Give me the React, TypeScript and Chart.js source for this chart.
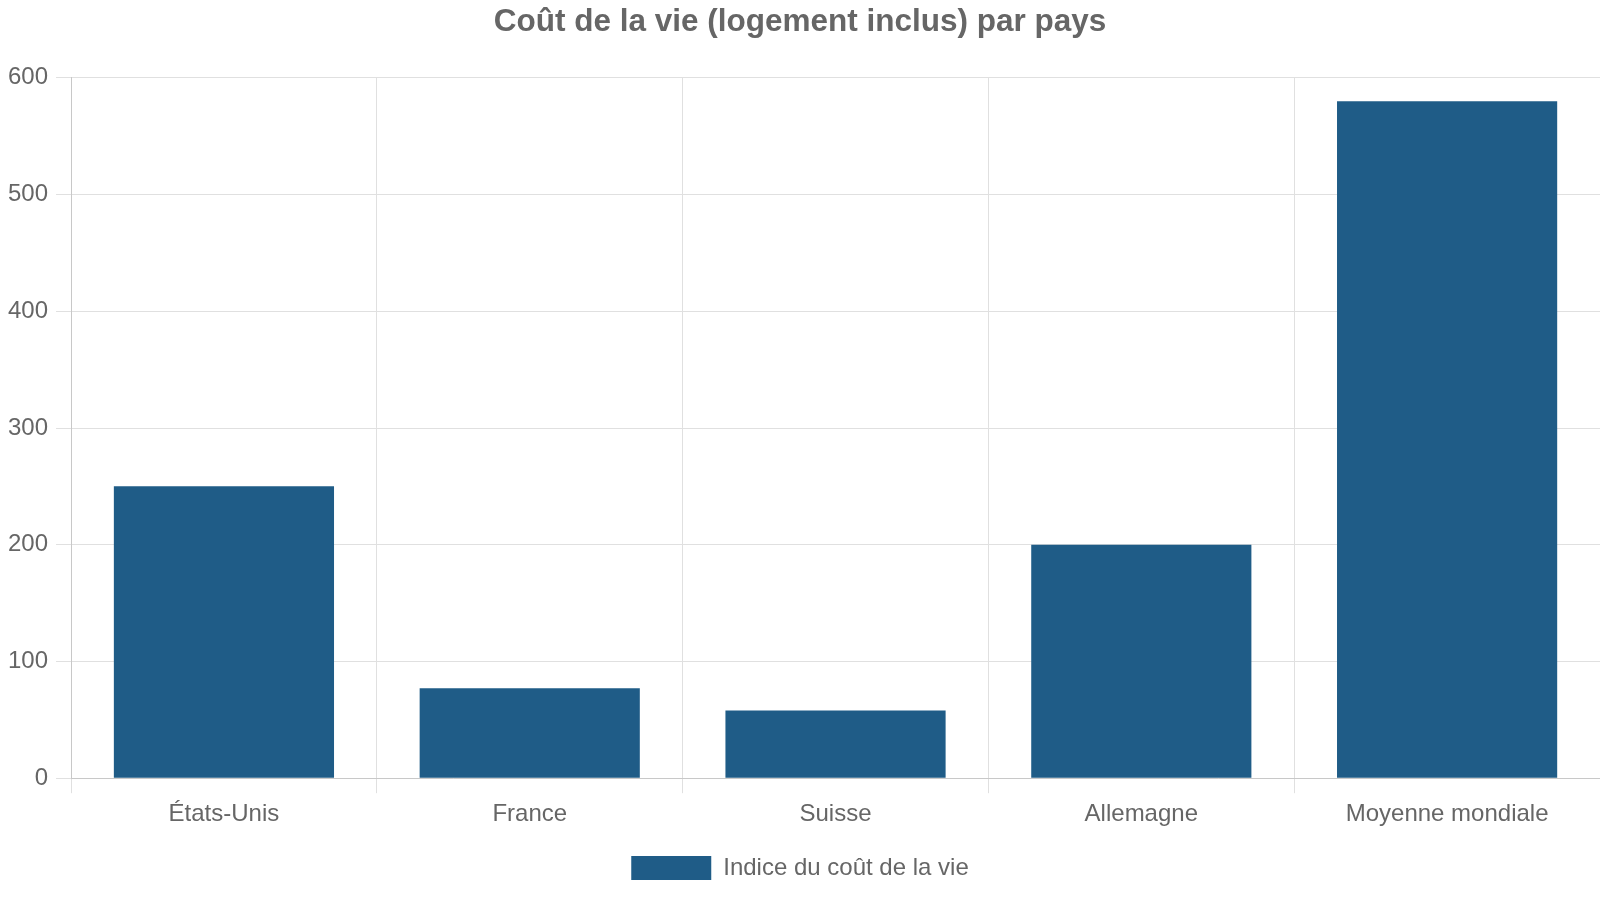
import { Chart, registerables } from "chart.js";
import { useEffect, useRef } from "react";

Chart.register(...registerables);

const pays = ["États-Unis", "France", "Suisse", "Allemagne", "Moyenne mondiale"];
const indice = [250, 77, 58, 200, 580];

const FONT = "'Liberation Sans', Arial, sans-serif";

const App = () => {
    const chartRef = useRef<HTMLCanvasElement>(null);
    const chartInstance = useRef<Chart | null>(null);

    useEffect(() => {
        document.body.style.margin = "0";
        if (!chartRef.current) return;
        const ctx = chartRef.current.getContext("2d");
        if (!ctx) return;

        chartInstance.current = new Chart(ctx, {
            type: "bar",
            data: {
                labels: pays,
                datasets: [
                    {
                        label: "Indice du coût de la vie",
                        data: indice,
                        backgroundColor: "#1f5c87",
                        borderColor: "#1f5c87",
                    },
                ],
            },
            options: {
                animation: false,
                responsive: true,
                maintainAspectRatio: false,
                color: "#666",
                layout: { padding: { bottom: 10 } },
                plugins: {
                    title: {
                        display: true,
                        text: "Coût de la vie (logement inclus) par pays",
                        color: "#666",
                        font: { size: 31.5, weight: "bold", family: FONT },
                        padding: { top: 3, bottom: 37 },
                    },
                    legend: {
                        position: "bottom",
                        labels: {
                            color: "#666",
                            boxWidth: 80,
                            boxHeight: 24,
                            padding: 20,
                            font: { size: 24, family: FONT },
                        },
                    },
                },
                scales: {
                    x: {
                        grid: { color: "#e0e0e0", tickLength: 15 },
                        border: { color: "#c8c8c8" },
                        ticks: { color: "#666", padding: 7, font: { size: 24, family: FONT } },
                    },
                    y: {
                        min: 0,
                        max: 600,
                        grid: { color: "#e0e0e0", tickLength: 15 },
                        border: { color: "#c8c8c8" },
                        ticks: { stepSize: 100, color: "#666", padding: 8, font: { size: 24, family: FONT } },
                    },
                },
            },
        } as any);

        return () => {
            if (chartInstance.current) {
                chartInstance.current.destroy();
                chartInstance.current = null;
            }
        };
    }, []);

    return (
        <div style={{ width: 1600, height: 900, position: "relative" }}>
            <canvas ref={chartRef} />
        </div>
    );
};

export default App;
